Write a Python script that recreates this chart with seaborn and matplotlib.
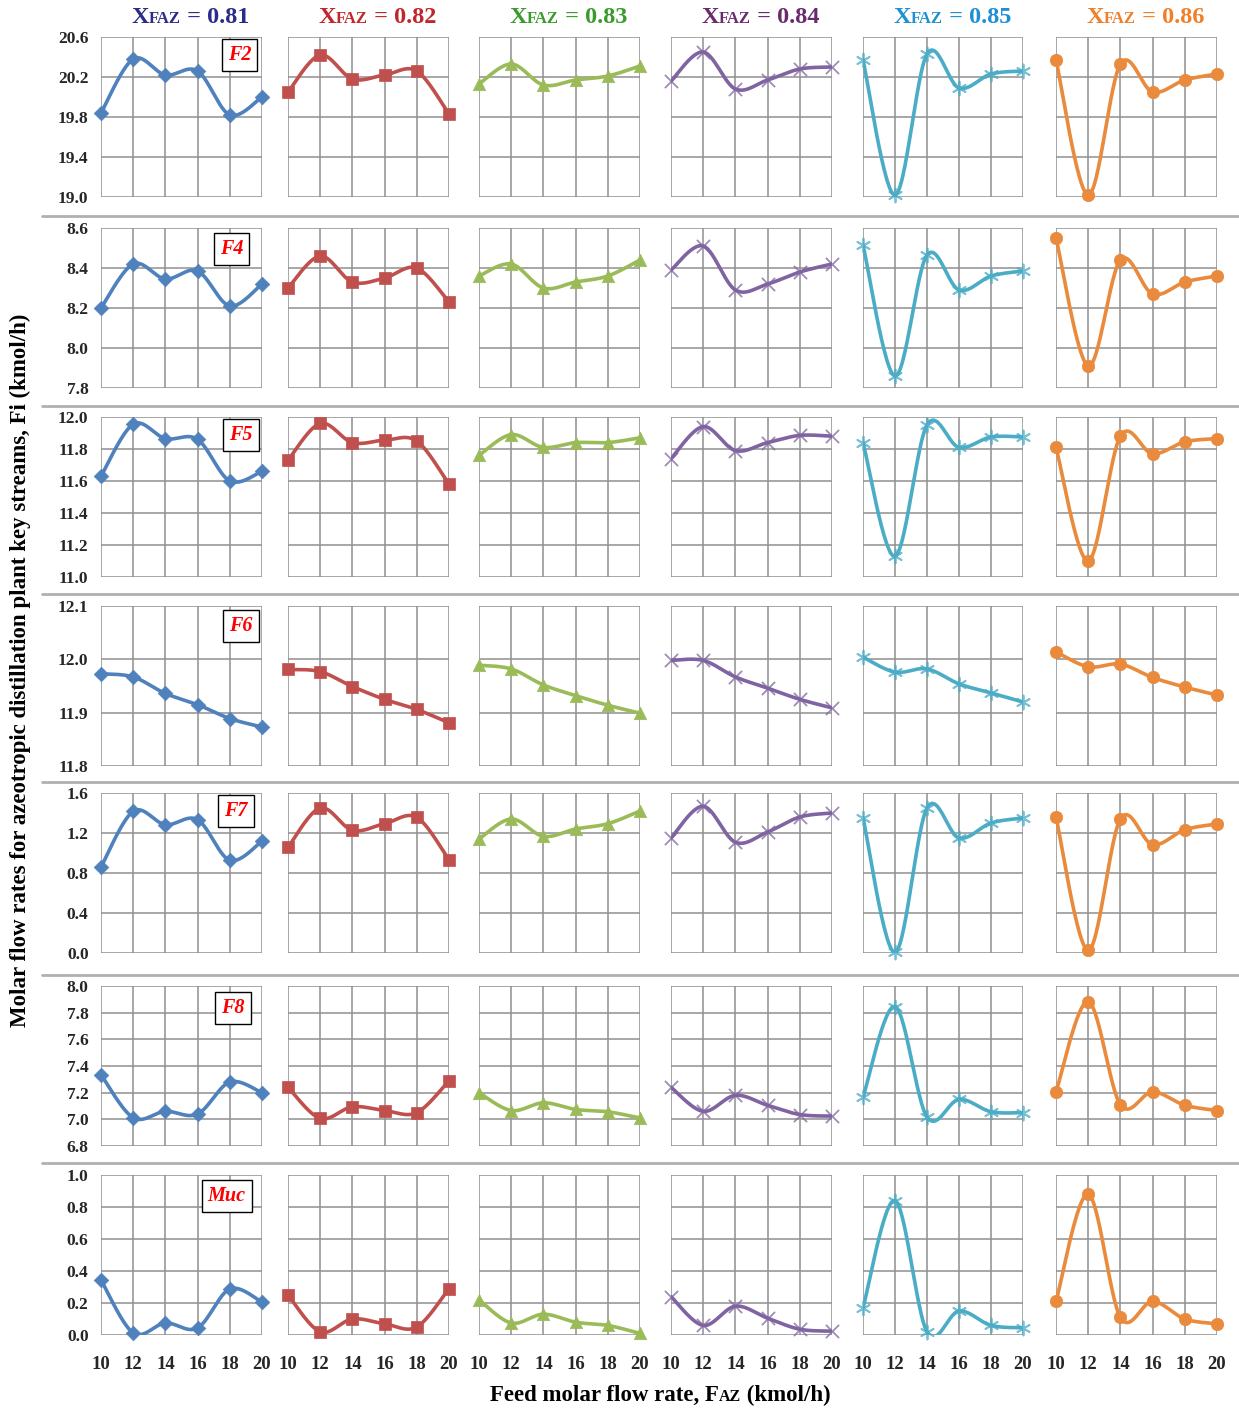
import numpy as np
import matplotlib
matplotlib.use("Agg")
import matplotlib.pyplot as plt
from matplotlib.lines import Line2D
import seaborn as sns

# ---------------------------------------------------------------- data
FEED = [10, 12, 14, 16, 18, 20]
XFAZ = ["0.81", "0.82", "0.83", "0.84", "0.85", "0.86"]
STREAMS = ["F2", "F4", "F5", "F6", "F7", "F8", "Muc"]

# one list per XFAZ value (0.81 ... 0.86), values at FEED
F2 = [
    [19.84, 20.38, 20.22, 20.26, 19.82, 20.00],
    [20.05, 20.42, 20.18, 20.22, 20.26, 19.83],
    [20.13, 20.33, 20.12, 20.17, 20.21, 20.31],
    [20.16, 20.45, 20.08, 20.17, 20.28, 20.30],
    [20.37, 19.02, 20.43, 20.09, 20.23, 20.26],
    [20.37, 19.02, 20.33, 20.05, 20.17, 20.23],
]
F4 = [
    [8.20, 8.42, 8.345, 8.385, 8.21, 8.32],
    [8.30, 8.46, 8.33, 8.35, 8.40, 8.23],
    [8.36, 8.42, 8.30, 8.33, 8.36, 8.44],
    [8.39, 8.51, 8.29, 8.32, 8.38, 8.42],
    [8.515, 7.86, 8.465, 8.29, 8.36, 8.385],
    [8.55, 7.91, 8.44, 8.27, 8.33, 8.36],
]
F5 = [
    [11.63, 11.955, 11.865, 11.86, 11.60, 11.66],
    [11.73, 11.96, 11.84, 11.855, 11.85, 11.58],
    [11.76, 11.89, 11.81, 11.84, 11.84, 11.87],
    [11.74, 11.94, 11.79, 11.84, 11.885, 11.88],
    [11.84, 11.13, 11.95, 11.81, 11.875, 11.875],
    [11.81, 11.10, 11.88, 11.77, 11.845, 11.865],
]
F6 = [
    [11.973, 11.967, 11.936, 11.915, 11.889, 11.873],
    [11.981, 11.977, 11.949, 11.925, 11.906, 11.881],
    [11.989, 11.982, 11.952, 11.932, 11.914, 11.899],
    [11.998, 11.998, 11.967, 11.946, 11.925, 11.909],
    [12.004, 11.976, 11.982, 11.954, 11.937, 11.920],
    [12.014, 11.986, 11.991, 11.966, 11.948, 11.933],
]
F7 = [
    [0.86, 1.417, 1.283, 1.333, 0.927, 1.117],
    [1.057, 1.45, 1.227, 1.293, 1.357, 0.933],
    [1.14, 1.34, 1.167, 1.24, 1.293, 1.42],
    [1.15, 1.467, 1.107, 1.21, 1.36, 1.40],
    [1.35, 0.007, 1.45, 1.15, 1.30, 1.35],
    [1.357, 0.027, 1.34, 1.083, 1.233, 1.29],
]
F8 = [
    [7.335, 7.012, 7.06, 7.04, 7.28, 7.20],
    [7.24, 7.007, 7.094, 7.066, 7.05, 7.29],
    [7.20, 7.066, 7.124, 7.074, 7.057, 7.01],
    [7.24, 7.06, 7.18, 7.105, 7.036, 7.024],
    [7.166, 7.846, 7.017, 7.15, 7.057, 7.05],
    [7.206, 7.883, 7.11, 7.206, 7.106, 7.066],
]
MUC = [
    [0.344, 0.013, 0.075, 0.044, 0.288, 0.206],
    [0.25, 0.02, 0.10, 0.07, 0.05, 0.29],
    [0.22, 0.075, 0.13, 0.08, 0.06, 0.01],
    [0.24, 0.06, 0.18, 0.105, 0.036, 0.024],
    [0.17, 0.84, 0.02, 0.15, 0.06, 0.045],
    [0.21, 0.88, 0.11, 0.21, 0.10, 0.07],
]
STREAM_DATA = [F2, F4, F5, F6, F7, F8, MUC]

# y range (min, max, step) for each stream row
Y_RANGES = [(19.0, 20.6, 0.4), (7.8, 8.6, 0.2), (11.0, 12.0, 0.2),
            (11.8, 12.1, 0.1), (0.0, 1.6, 0.4), (6.8, 8.0, 0.2), (0.0, 1.0, 0.2)]

# ---------------------------------------------------------------- style
LINE_COLORS = ["#4F81BD", "#C0504D", "#9BBB59", "#8064A2", "#4BACC6", "#E98A3C"]
TITLE_COLORS = ["#2B2B88", "#C0262C", "#3A9A2C", "#6A2A6E", "#1E8FD5", "#F07F2A"]
MARKERS = ["D", "s", "^", "x", (6, 2, 0), "o"]
MARKER_SIZES = [55, 85, 80, 90, 100, 80]
LABEL_POS = [(0.86, 0.89), (0.81, 0.87), (0.87, 0.89), (0.87, 0.875),
             (0.84, 0.89), (0.82, 0.86), (0.78, 0.87)]

W, H = 1239, 1410
COL_X = [(101, 262), (288, 449), (479, 640), (671, 832), (863, 1023), (1056, 1217)]
ROW_Y = [(37, 197), (228, 388), (417, 577), (606, 766), (793, 953), (986, 1146), (1175, 1335)]
SEPARATORS = [216, 406, 594, 782, 975, 1163]

sns.set_style("white")
plt.rcParams["font.family"] = ["Liberation Serif", "DejaVu Serif"]
plt.rcParams["font.weight"] = "bold"


def smooth_curve(x, y, n=30):
    """Excel-style smoothed line through the points (cubic Bezier segments)."""
    x = np.asarray(x, float)
    y = np.asarray(y, float)
    px = np.concatenate([[x[0]], x, [x[-1]]])
    py = np.concatenate([[y[0]], y, [y[-1]]])
    t = np.linspace(0, 1, n)
    xs, ys = [], []
    for i in range(len(x) - 1):
        p0, p1, p2, p3 = [np.array([px[i + k], py[i + k]]) for k in range(4)]
        c1 = p1 + (p2 - p0) / 6.0
        c2 = p2 - (p3 - p1) / 6.0
        b = ((1 - t)[:, None] ** 3 * p1 + 3 * ((1 - t) ** 2 * t)[:, None] * c1
             + 3 * ((1 - t) * t ** 2)[:, None] * c2 + (t ** 3)[:, None] * p2)
        xs.append(b[:, 0] if i == 0 else b[1:, 0])
        ys.append(b[:, 1] if i == 0 else b[1:, 1])
    return np.concatenate(xs), np.concatenate(ys)


fig = plt.figure(figsize=(W / 100, H / 100), dpi=100)
fig.patch.set_facecolor("white")

for r, (stream, data) in enumerate(zip(STREAMS, STREAM_DATA)):
    lo, hi, step = Y_RANGES[r]
    yt, yb = ROW_Y[r]
    for c in range(6):
        xl, xr = COL_X[c]
        ax = fig.add_axes([xl / W, 1 - yb / H, (xr - xl) / W, (yb - yt) / H])
        vals = data[c]
        color = LINE_COLORS[c]
        sx, sy = smooth_curve(FEED, vals)
        sns.lineplot(x=sx, y=sy, ax=ax, color=color, lw=2.6, sort=False,
                     estimator=None, zorder=3)
        mk = MARKERS[c]
        if mk in ("x",) or isinstance(mk, tuple):
            sns.scatterplot(x=FEED, y=vals, ax=ax, marker=mk, s=MARKER_SIZES[c],
                            color=color, linewidth=1.3, alpha=0.75, zorder=4,
                            clip_on=False)
        else:
            sns.scatterplot(x=FEED, y=vals, ax=ax, marker=mk, s=MARKER_SIZES[c],
                            color=color, edgecolor=color, linewidth=0.5, zorder=4,
                            clip_on=False)
        ax.set_xlim(10, 20)
        ax.set_ylim(lo, hi)
        ax.set_xticks(FEED)
        ax.set_yticks(np.round(np.arange(lo, hi + step / 2, step), 2))
        ax.grid(True, color="#8f8f8f", lw=1.1)
        ax.set_axisbelow(True)
        for sp in ax.spines.values():
            sp.set_visible(False)
        ax.tick_params(axis="both", direction="out", length=6, width=1.1,
                       color="#8f8f8f", pad=3)
        ax.tick_params(axis="x", pad=9)
        ax.set_xlabel("")
        ax.set_ylabel("")
        if c == 0:
            ax.set_yticklabels([f"{v:.1f}" for v in ax.get_yticks()],
                               fontsize=12.5, fontweight="bold")
        else:
            ax.set_yticklabels([])
        if r == len(STREAMS) - 1:
            ax.set_xticklabels([str(v) for v in FEED], fontsize=13.5, fontweight="bold")
        else:
            ax.set_xticklabels([])
        if c == 0:
            lx, ly = LABEL_POS[r]
            ax.text(lx, ly, stream, transform=ax.transAxes, ha="center", va="center",
                    fontsize=14.5, fontweight="bold", fontstyle="italic", color="#FF0000",
                    zorder=6,
                    bbox=dict(boxstyle="square,pad=0.3", fc="white", ec="black", lw=1.0))

# row separators
for y in SEPARATORS:
    fig.add_artist(Line2D([42 / W, 1.0], [1 - y / H, 1 - y / H],
                          color="#b0b0b0", lw=2.0))

renderer = fig.canvas.get_renderer()


def compound_text(pieces, cx_px, base_px, color):
    texts = []
    for s, size in pieces:
        t = fig.text(0, 1 - base_px / H, s, fontsize=size, fontweight="bold",
                     color=color, ha="left", va="baseline")
        texts.append(t)
    widths = [t.get_window_extent(renderer).width for t in texts]
    x = cx_px - sum(widths) / 2
    for t, w in zip(texts, widths):
        t.set_x(x / W)
        x += w


# column headers
for c, xv in enumerate(XFAZ):
    xl, xr = COL_X[c]
    compound_text([("X", 17.5), ("FAZ", 12), (" = " + xv, 17.5)],
                  (xl + xr) / 2 + 9, 23, TITLE_COLORS[c])

# axis titles
fig.text(20 / W, 1 - 670 / H,
         "Molar flow rates for azeotropic distillation plant key streams, Fi (kmol/h)",
         rotation=90, ha="center", va="center", fontsize=16.5, fontweight="bold",
         color="black")
compound_text([("Feed molar flow rate, F", 16.5), ("AZ", 11.5), (" (kmol/h)", 16.5)],
              660, 1401, "black")

fig.savefig("out.png", dpi=100, facecolor="white")
